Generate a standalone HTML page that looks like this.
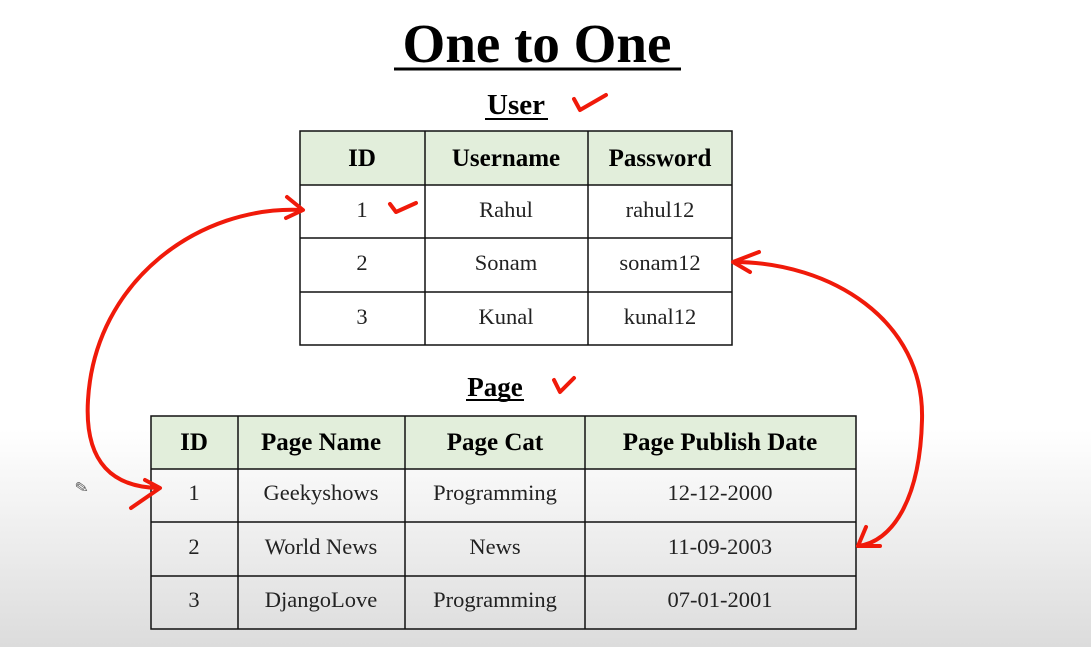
<!DOCTYPE html>
<html><head><style>
html,body{margin:0;padding:0}
body{width:1091px;height:647px;overflow:hidden;background:linear-gradient(to bottom,#fff 0,#fff 430px,#dcdcdc 647px);font-family:"Liberation Serif",serif;position:relative}
svg{position:absolute;left:0;top:0}
</style></head><body>
<svg width="1091" height="647" viewBox="0 0 1091 647" font-family="Liberation Serif, serif">
<text x="537" y="62" font-size="55" font-weight="bold" text-anchor="middle">One to One</text>
<line x1="394" y1="69" x2="681" y2="69" stroke="#000" stroke-width="3"/>
<text x="516" y="114" font-size="29" font-weight="bold" text-anchor="middle">User</text>
<line x1="485" y1="119" x2="548" y2="119" stroke="#000" stroke-width="2"/>
<text x="495" y="396" font-size="27" font-weight="bold" text-anchor="middle">Page</text>
<line x1="466" y1="400" x2="524" y2="400" stroke="#000" stroke-width="2"/>

<rect x="300" y="131" width="432" height="54" fill="#e2eedb"/>
<g stroke="#111" stroke-width="1.5" fill="none">
<rect x="300" y="131" width="432" height="214"/>
<line x1="425" y1="131" x2="425" y2="345"/><line x1="588" y1="131" x2="588" y2="345"/>
<line x1="300" y1="185" x2="732" y2="185"/><line x1="300" y1="238" x2="732" y2="238"/><line x1="300" y1="292" x2="732" y2="292"/>
</g>
<g font-size="25" text-anchor="middle" font-weight="bold">
<text x="362" y="166">ID</text><text x="506" y="166">Username</text><text x="660" y="166">Password</text></g>
<g font-size="22.5" text-anchor="middle" fill="#222">
<text x="362" y="217">1</text><text x="506" y="217">Rahul</text><text x="660" y="217">rahul12</text>
<text x="362" y="270">2</text><text x="506" y="270">Sonam</text><text x="660" y="270">sonam12</text>
<text x="362" y="324">3</text><text x="506" y="324">Kunal</text><text x="660" y="324">kunal12</text></g>

<rect x="151" y="416" width="705" height="53" fill="#e2eedb"/>
<g stroke="#111" stroke-width="1.5" fill="none">
<rect x="151" y="416" width="705" height="213"/>
<line x1="238" y1="416" x2="238" y2="629"/><line x1="405" y1="416" x2="405" y2="629"/><line x1="585" y1="416" x2="585" y2="629"/>
<line x1="151" y1="469" x2="856" y2="469"/><line x1="151" y1="522" x2="856" y2="522"/><line x1="151" y1="576" x2="856" y2="576"/>
</g>
<g font-size="25" text-anchor="middle" font-weight="bold">
<text x="194" y="450">ID</text><text x="321" y="450">Page Name</text><text x="495" y="450">Page Cat</text><text x="720" y="450">Page Publish Date</text></g>
<g font-size="22.5" text-anchor="middle" fill="#222">
<text x="194" y="500">1</text><text x="321" y="500">Geekyshows</text><text x="495" y="500">Programming</text><text x="720" y="500">12-12-2000</text>
<text x="194" y="554">2</text><text x="321" y="554">World News</text><text x="495" y="554">News</text><text x="720" y="554">11-09-2003</text>
<text x="194" y="607">3</text><text x="321" y="607">DjangoLove</text><text x="495" y="607">Programming</text><text x="720" y="607">07-01-2001</text></g>

<g stroke="#f01a0a" stroke-width="4" fill="none" stroke-linecap="round" stroke-linejoin="round">
<path d="M302,210 C200,205 95,280 88,400 C84,465 115,487 158,488"/>
<path d="M287,197 L303,210 L286,218"/>
<path d="M145,480 L160,488 L131,508"/>
<path d="M734,262 C830,262 925,320 922,420 C920,500 892,542 858,546"/>
<path d="M759,252 L733,262 L750,272"/>
<path d="M866,527 L858,546 L880,546"/>
<path d="M574,99 L580,110 L606,95"/>
<path d="M390,204 L396,212 L416,203"/>
<path d="M554,380 L560,392 L574,378"/>
</g>
<text x="75" y="493" font-size="16" fill="#555" transform="rotate(-10 82 488)">✎</text>
</svg>
</body></html>
